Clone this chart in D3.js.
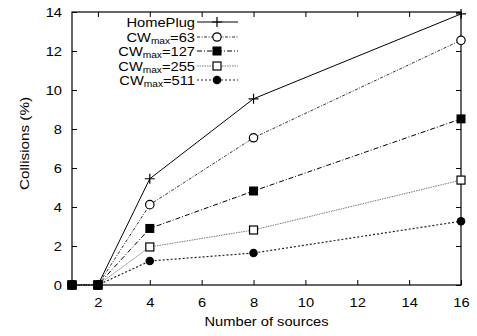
<!DOCTYPE html>
<html>
<head>
<meta charset="utf-8">
<script src="https://cdn.jsdelivr.net/npm/d3@7"></script>
<style>
  html, body { margin: 0; padding: 0; background: #fff; }
  svg { display: block; font-family: "Liberation Sans", Arial, sans-serif; }
</style>
</head>
<body>
<svg id="chart" width="477" height="336"></svg>
<script>
// Collision rate versus number of contending sources
const sources = [1, 2, 4, 8, 16];
const homeplug = [0, 0, 5.45, 9.55, 13.9];
const cw63 = [0, 0, 4.12, 7.55, 12.55];
const cw127 = [0, 0, 2.9, 4.82, 8.52];
const cw255 = [0, 0, 1.95, 2.82, 5.38];
const cw511 = [0, 0, 1.23, 1.64, 3.27];
const xTicks = [2, 4, 6, 8, 10, 12, 14, 16];
const yTicks = [0, 2, 4, 6, 8, 10, 12, 14];

const series = [
  { name: "HomePlug", sub: null, values: homeplug, dash: null, color: "#000", width: 1, marker: "plus" },
  { name: "CW", sub: "max", suffix: "=63", values: cw63, dash: "3,1.5,1,1.5", color: "#333", width: 1, marker: "circle" },
  { name: "CW", sub: "max", suffix: "=127", values: cw127, dash: "5,2,1,2", color: "#000", width: 1, marker: "square" },
  { name: "CW", sub: "max", suffix: "=255", values: cw255, dash: "1.5,1", color: "#777", width: 1, marker: "squareOpen" },
  { name: "CW", sub: "max", suffix: "=511", values: cw511, dash: "2,2", color: "#222", width: 1.2, marker: "dot" }
];

const svg = d3.select("#chart");
const plotLeft = 72, plotRight = 461, plotTop = 12, plotBottom = 285;
const stretch = 1.13;   // the typeface is set slightly wide

const x = d3.scaleLinear().domain([1, 16]).range([plotLeft, plotRight]);
const y = d3.scaleLinear().domain([0, 14]).range([plotBottom, plotTop]);

// frame
svg.append("rect")
  .attr("x", plotLeft).attr("y", plotTop)
  .attr("width", plotRight - plotLeft).attr("height", plotBottom - plotTop)
  .attr("fill", "none").attr("stroke", "#000").attr("stroke-width", 1.2);

// axes with mirrored ticks
const tickLen = 5;
const axisB = svg.append("g").attr("transform", `translate(0,${plotBottom})`)
  .call(d3.axisBottom(x).tickValues(xTicks).tickSize(-tickLen).tickPadding(10));
const axisT = svg.append("g").attr("transform", `translate(0,${plotTop})`)
  .call(d3.axisTop(x).tickValues(xTicks).tickSize(-tickLen).tickFormat(""));
const axisL = svg.append("g").attr("transform", `translate(${plotLeft},0)`)
  .call(d3.axisLeft(y).tickValues(yTicks).tickSize(-tickLen).tickPadding(10));
const axisR = svg.append("g").attr("transform", `translate(${plotRight},0)`)
  .call(d3.axisRight(y).tickValues(yTicks).tickSize(-tickLen).tickFormat(""));
[axisB, axisT, axisL, axisR].forEach(g => {
  g.select(".domain").remove();
  g.selectAll(".tick line").attr("stroke", "#000");
  g.selectAll(".tick text").attr("fill", "#000").attr("font-size", 13)
    .attr("font-family", "Liberation Sans, Arial, sans-serif")
    .attr("transform", `scale(${stretch},1)`);
});
axisB.selectAll(".tick text").attr("y", 10).attr("dy", "0.95em");
axisL.selectAll(".tick text").attr("x", -10 / stretch);

// axis titles
svg.append("text")
  .attr("transform", `translate(${(plotLeft + plotRight) / 2},326) scale(${stretch},1)`)
  .attr("text-anchor", "middle").attr("font-size", 13).text("Number of sources");
svg.append("text")
  .attr("transform", `translate(25,${(plotTop + plotBottom) / 2 - 5}) rotate(-90) scale(${stretch},1)`)
  .attr("text-anchor", "middle").attr("dominant-baseline", "middle")
  .attr("font-size", 13.5).text("Collisions (%)");

function drawMarker(g, kind, cx, cy) {
  if (kind === "plus") {
    g.append("path").attr("d", `M${cx - 5},${cy}H${cx + 5}M${cx},${cy - 5}V${cy + 5}`)
      .attr("stroke", "#000").attr("stroke-width", 1.2).attr("fill", "none");
  } else if (kind === "circle") {
    g.append("circle").attr("cx", cx).attr("cy", cy).attr("r", 4.2)
      .attr("fill", "#fff").attr("stroke", "#000").attr("stroke-width", 1.2);
  } else if (kind === "square") {
    g.append("rect").attr("x", cx - 4.5).attr("y", cy - 4.5).attr("width", 9).attr("height", 9)
      .attr("fill", "#000");
  } else if (kind === "squareOpen") {
    g.append("rect").attr("x", cx - 4).attr("y", cy - 4).attr("width", 8).attr("height", 8)
      .attr("fill", "#fff").attr("stroke", "#000").attr("stroke-width", 1.2);
  } else if (kind === "dot") {
    g.append("circle").attr("cx", cx).attr("cy", cy).attr("r", 4.3).attr("fill", "#000");
  }
}

const line = d3.line().x(d => x(d[0])).y(d => y(d[1]));

// series lines and markers
series.forEach(s => {
  const pts = sources.map((v, i) => [v, s.values[i]]);
  const g = svg.append("g");
  g.append("path").datum(pts).attr("d", line)
    .attr("fill", "none").attr("stroke", s.color).attr("stroke-width", s.width)
    .attr("stroke-dasharray", s.dash);
  pts.forEach(p => drawMarker(g, s.marker, x(p[0]), y(p[1])));
});
// the filled squares at zero sit on top of the overlapping markers
const sq = svg.append("g");
sources.forEach((v, i) => {
  if (cw127[i] === 0) drawMarker(sq, "square", x(v), y(cw127[i]));
});

// legend
const legend = svg.append("g");
const rowY = [22, 37, 51, 66, 80];
series.forEach((s, i) => {
  const yy = rowY[i];
  const t = legend.append("text")
    .attr("transform", `translate(195,${yy + 4.5}) scale(${stretch},1)`)
    .attr("text-anchor", "end").attr("font-size", 13);
  if (s.sub) {
    t.append("tspan").text(s.name);
    t.append("tspan").attr("font-size", 9).attr("dy", 2).text(s.sub);
    t.append("tspan").attr("dy", -2).text(s.suffix);
  } else {
    t.text(s.name);
  }
  legend.append("line").attr("x1", 197).attr("x2", 238).attr("y1", yy).attr("y2", yy)
    .attr("stroke", s.color).attr("stroke-width", s.width).attr("stroke-dasharray", s.dash);
  drawMarker(legend, s.marker, 217, yy);
});
</script>
</body>
</html>
